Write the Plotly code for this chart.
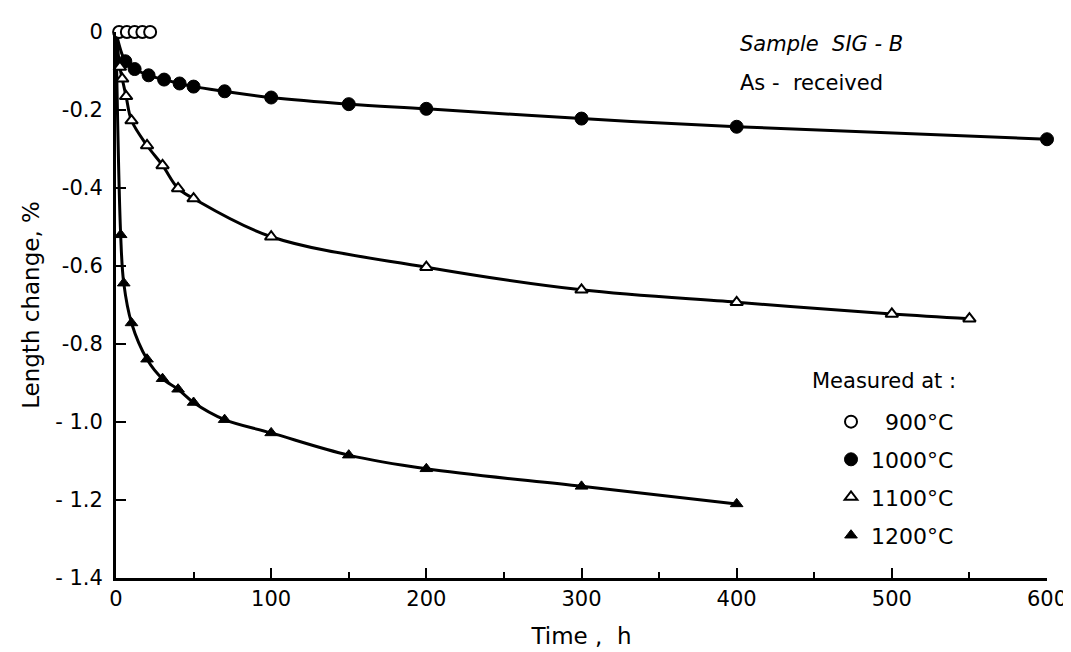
import plotly.graph_objects as go

# ---- data ----
t900 = [2, 7, 12, 17, 22]
v900 = [0, 0, 0, 0, 0]

t1000 = [6, 12, 21, 31, 41, 50, 70, 100, 150, 200, 300, 400, 600]
v1000 = [-0.075, -0.095, -0.111, -0.122, -0.132, -0.140, -0.152, -0.168,
         -0.185, -0.197, -0.222, -0.243, -0.275]

t1100 = [2.5, 4, 6.5, 10, 20, 30, 40, 50, 100, 200, 300, 400, 500, 550]
v1100 = [-0.09, -0.12, -0.165, -0.227, -0.291, -0.342, -0.401, -0.427,
         -0.525, -0.603, -0.661, -0.693, -0.723, -0.735]

t1200 = [3, 5, 10, 20, 30, 40, 50, 70, 100, 150, 200, 300, 400]
v1200 = [-0.52, -0.644, -0.746, -0.839, -0.889, -0.916, -0.950, -0.994,
         -1.028, -1.085, -1.12, -1.165, -1.21]

x_ticks = [0, 100, 200, 300, 400, 500, 600]
y_ticks = [0, -0.2, -0.4, -0.6, -0.8, -1.0, -1.2, -1.4]
y_ticktext = ["0", "-0.2", "-0.4", "-0.6", "-0.8", "- 1.0", "- 1.2", "- 1.4"]

series_names = ["  900°C", "1000°C", "1100°C", "1200°C"]

FONT = "DejaVu Sans"
BLACK = "#000000"

fig = go.Figure()

# fitted curves (start at origin)
for tt, vv in [(t1000, v1000), (t1100, v1100), (t1200, v1200)]:
    fig.add_trace(go.Scatter(
        x=[0] + tt, y=[0] + vv, mode="lines",
        line=dict(color=BLACK, width=3, shape="spline", smoothing=1.0),
        showlegend=False, hoverinfo="skip", cliponaxis=False))

fig.add_trace(go.Scatter(
    x=t900, y=v900, mode="markers", name=series_names[0], legend="legend",
    marker=dict(symbol="circle", size=12, color="white",
                line=dict(color=BLACK, width=2)), cliponaxis=False))
fig.add_trace(go.Scatter(
    x=t1000, y=v1000, mode="markers", name=series_names[1], legend="legend2",
    marker=dict(symbol="circle", size=13, color=BLACK,
                line=dict(color=BLACK, width=1)), cliponaxis=False))
fig.add_trace(go.Scatter(
    x=t1100, y=v1100, mode="markers", name=series_names[2], legend="legend3",
    marker=dict(symbol="triangle-up", size=11, color="white",
                line=dict(color=BLACK, width=2)), cliponaxis=False))
fig.add_trace(go.Scatter(
    x=t1200, y=v1200, mode="markers", name=series_names[3], legend="legend4",
    marker=dict(symbol="triangle-up", size=11, color=BLACK,
                line=dict(color=BLACK, width=1)), cliponaxis=False))

leg_common = dict(x=0.768, xanchor="left", yanchor="middle",
                  font=dict(size=22), bgcolor="rgba(0,0,0,0)", itemwidth=30)

fig.update_layout(
    width=1071, height=652,
    margin=dict(l=108, r=32, t=21, b=82),
    paper_bgcolor="white", plot_bgcolor="white",
    font=dict(family=FONT, size=18, color=BLACK),
    legend=dict(y=0.286, **leg_common),
    legend2=dict(y=0.217, **leg_common),
    legend3=dict(y=0.148, **leg_common),
    legend4=dict(y=0.078, **leg_common),
    annotations=[
        dict(text="<i>Sample  SIG - B</i>", x=0.668, y=0.978, xref="paper", yref="paper",
             xanchor="left", yanchor="middle", showarrow=False, font=dict(size=21)),
        dict(text="As -  received", x=0.668, y=0.907, xref="paper", yref="paper",
             xanchor="left", yanchor="middle", showarrow=False, font=dict(size=21)),
        dict(text="Measured at :", x=0.745, y=0.361, xref="paper", yref="paper",
             xanchor="left", yanchor="middle", showarrow=False, font=dict(size=21)),
    ],
)

fig.update_xaxes(
    range=[0, 600], tickvals=x_ticks, ticks="inside", ticklen=10, tickwidth=2,
    tickcolor=BLACK, showline=True, linecolor=BLACK, linewidth=3,
    showgrid=False, zeroline=False, tickfont=dict(size=21),
    minor=dict(dtick=50, ticks="inside", ticklen=6, tickwidth=2, tickcolor=BLACK),
    title=dict(text="Time ,  h", font=dict(size=23), standoff=18))

fig.update_yaxes(
    range=[-1.4, 0], tickvals=y_ticks, ticktext=y_ticktext, ticks="inside",
    ticklen=10, tickwidth=2, tickcolor=BLACK, showline=True, linecolor=BLACK,
    linewidth=3, showgrid=False, zeroline=False, tickfont=dict(size=21),
    ticklabelstandoff=6,
    title=dict(text="Length change, %", font=dict(size=23), standoff=10))

fig.write_html("out.html")
